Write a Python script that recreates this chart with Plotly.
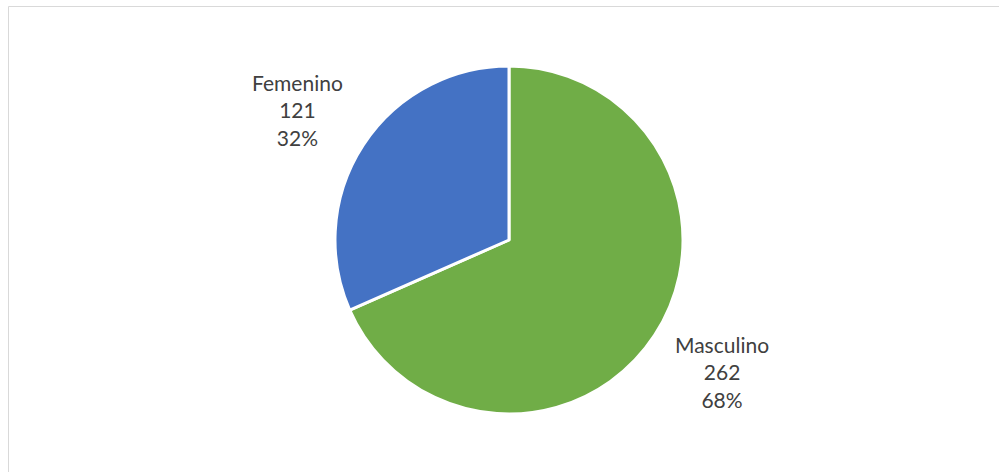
import plotly.graph_objects as go

labels = ['Masculino', 'Femenino']
values = [262, 121]
colors = ['#70AD47', '#4472C4']

W, H = 999, 472
cx, cy, r = 509, 240, 174

fig = go.Figure()
fig.add_trace(go.Pie(
    labels=labels,
    values=values,
    sort=False,
    direction='clockwise',
    rotation=0,
    textinfo='none',
    hoverinfo='label+value+percent',
    marker=dict(colors=colors, line=dict(color='white', width=3)),
    domain=dict(x=[(cx - r) / W, (cx + r) / W],
                y=[(H - cy - r) / H, (H - cy + r) / H]),
))

# data labels placed like the original (outside end)
total = sum(values)
label_pos = {'Masculino': (722, 372), 'Femenino': (297, 110)}
for lab, val in zip(labels, values):
    x, y = label_pos[lab]
    fig.add_annotation(
        x=x / W, y=1 - y / H, xref='paper', yref='paper',
        xanchor='center', yanchor='middle',
        text=f"{lab}<br>{val}<br>{round(100 * val / total)}%",
        showarrow=False, align='center',
        font=dict(family='Lato, Open Sans, sans-serif', size=21, color='#404040'),
    )

# chart area border
fig.add_shape(type='rect', xref='paper', yref='paper',
              x0=8.5 / W, y0=-0.05, x1=1.05, y1=1 - 6.5 / H,
              line=dict(color='#D9D9D9', width=1))

fig.update_layout(
    width=W, height=H,
    margin=dict(l=0, r=0, t=0, b=0),
    paper_bgcolor='white',
    showlegend=False,
)

# drop the default body margin so the figure sits at the window's corner
fig.write_html("out.html", config={'displayModeBar': False},
               post_script="document.body.style.margin='0';")
